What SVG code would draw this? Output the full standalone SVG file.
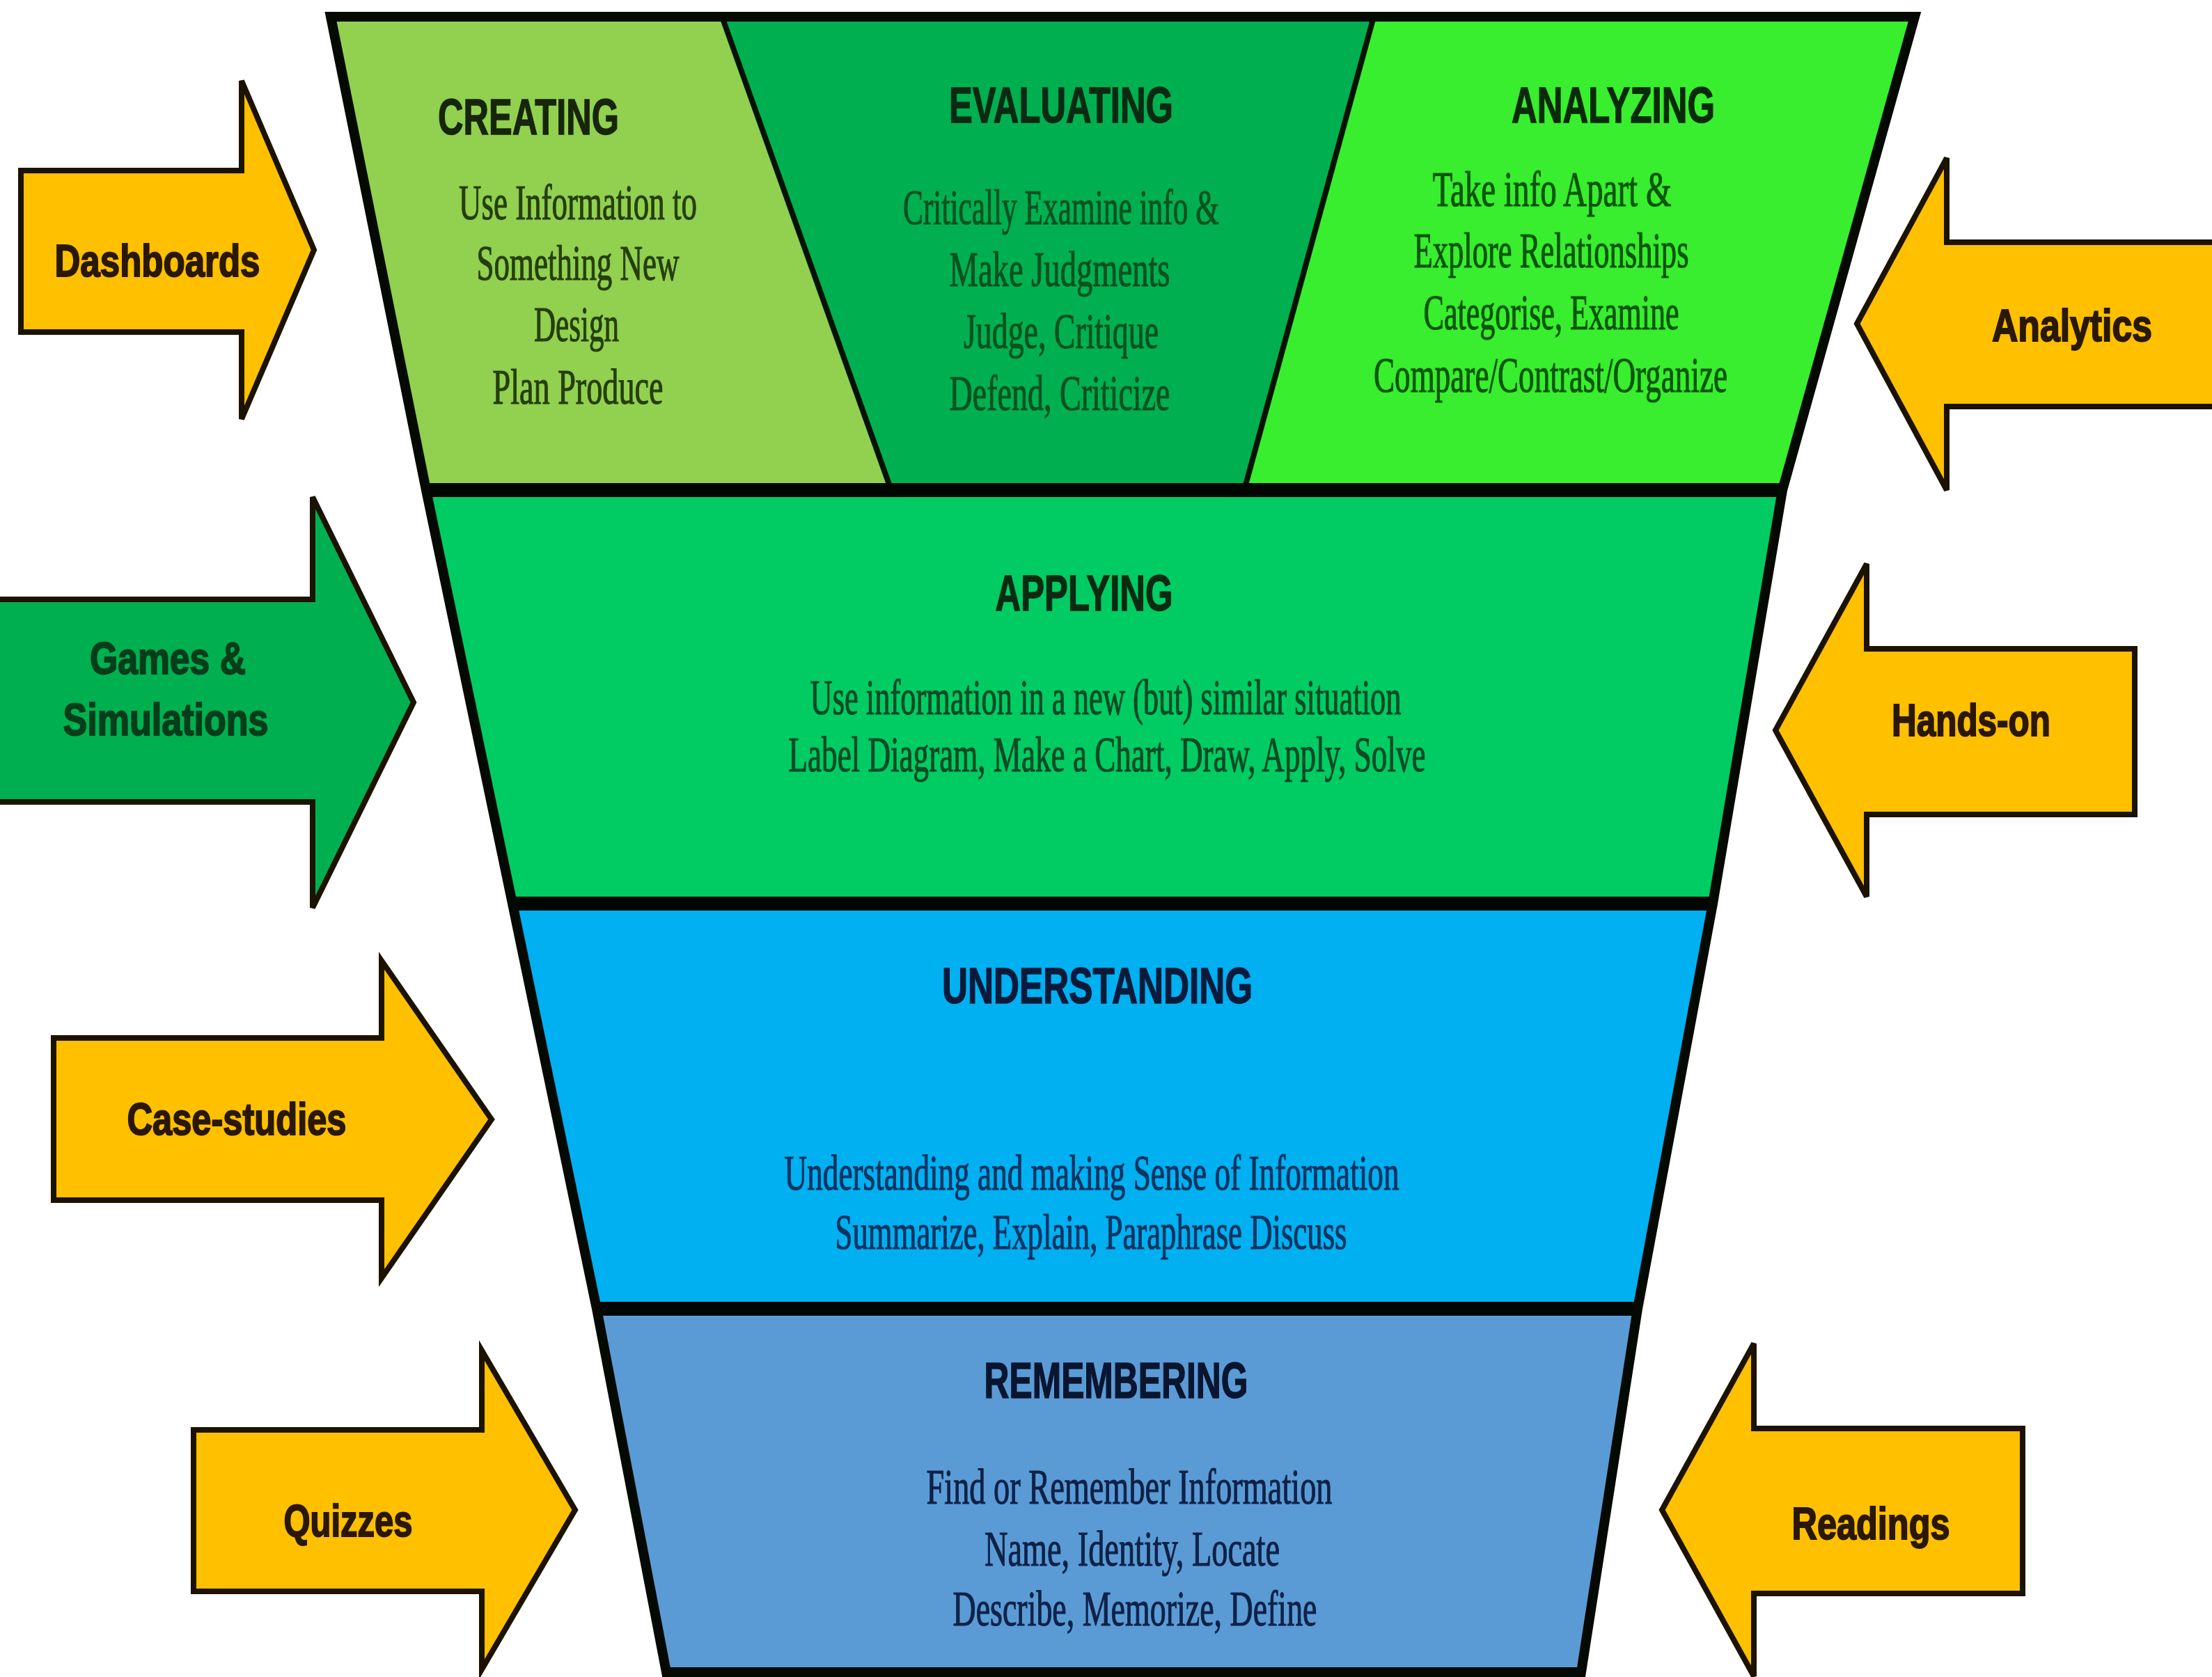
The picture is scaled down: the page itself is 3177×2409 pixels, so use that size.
<svg xmlns="http://www.w3.org/2000/svg" width="3177" height="2409" viewBox="0 0 3177 2409">
  <style>
    .hd { font-family: "Liberation Sans", Arial, sans-serif; font-weight: 700; font-size: 72px; text-anchor: middle; stroke-width: 1.5; }
    .bd { font-family: "Liberation Serif", "Times New Roman", serif; font-size: 72px; text-anchor: middle; stroke-width: 1.2; }
    .lb { font-family: "Liberation Sans", Arial, sans-serif; font-weight: 700; font-size: 64px; text-anchor: middle; stroke-width: 2; }
    .edge { fill: none; stroke: #040902; stroke-width: 14; stroke-linejoin: miter; }
    .rule { fill: none; stroke: #020601; stroke-width: 20; }
    .split { fill: none; stroke: #031203; stroke-width: 8; }
    .arrow { stroke: #1c1200; stroke-width: 8; stroke-linejoin: miter; }
    .yel { fill: #ffc000; }
    .grn { fill: #00b050; }
    .t-yel { fill: #2a1800; stroke: #2a1800; }
    .t-grn { fill: #063d1a; stroke: #063d1a; }
  </style>

  <rect width="3177" height="2409" fill="#ffffff"/>

  <!-- funnel levels -->
  <g id="funnel">
    <g id="creating">
      <polygon points="475,24 1037,24 1280,704 612,704" fill="#92d050"/>
      <text class="hd" x="759" y="193" fill="#17260a" stroke="#17260a" textLength="260" lengthAdjust="spacingAndGlyphs">CREATING</text>
      <g class="bd" fill="#253f0b" stroke="#253f0b">
        <text x="830" y="315" textLength="342" lengthAdjust="spacingAndGlyphs">Use Information to</text>
        <text x="830" y="402" textLength="291" lengthAdjust="spacingAndGlyphs">Something New</text>
        <text x="828" y="490" textLength="122" lengthAdjust="spacingAndGlyphs">Design</text>
        <text x="830" y="580" textLength="245" lengthAdjust="spacingAndGlyphs">Plan Produce</text>
      </g>
    </g>

    <g id="evaluating">
      <polygon points="1037,24 1973,24 1787,704 1280,704" fill="#00b050"/>
      <text class="hd" x="1524" y="176" fill="#0a2a12" stroke="#0a2a12" textLength="322" lengthAdjust="spacingAndGlyphs">EVALUATING</text>
      <g class="bd" fill="#0a5220" stroke="#0a5220">
        <text x="1524" y="322" textLength="454" lengthAdjust="spacingAndGlyphs">Critically Examine info &amp;</text>
        <text x="1522" y="411" textLength="317" lengthAdjust="spacingAndGlyphs">Make Judgments</text>
        <text x="1524" y="500" textLength="280" lengthAdjust="spacingAndGlyphs">Judge, Critique</text>
        <text x="1522" y="589" textLength="317" lengthAdjust="spacingAndGlyphs">Defend, Criticize</text>
      </g>
    </g>

    <g id="analyzing">
      <polygon points="1973,24 2750,24 2560,704 1787,704" fill="#38ee2e"/>
      <text class="hd" x="2317" y="176" fill="#0a2a0a" stroke="#0a2a0a" textLength="292" lengthAdjust="spacingAndGlyphs">ANALYZING</text>
      <g class="bd" fill="#0a560a" stroke="#0a560a">
        <text x="2229" y="296" textLength="343" lengthAdjust="spacingAndGlyphs">Take info Apart &amp;</text>
        <text x="2228" y="384" textLength="395" lengthAdjust="spacingAndGlyphs">Explore Relationships</text>
        <text x="2228" y="473" textLength="367" lengthAdjust="spacingAndGlyphs">Categorise, Examine</text>
        <text x="2227" y="563" textLength="508" lengthAdjust="spacingAndGlyphs">Compare/Contrast/Organize</text>
      </g>
    </g>

    <g id="applying">
      <polygon points="612,704 2560,704 2460,1298 736,1298" fill="#00cc63"/>
      <text class="hd" x="1557" y="877" fill="#0a2a12" stroke="#0a2a12" textLength="255" lengthAdjust="spacingAndGlyphs">APPLYING</text>
      <g class="bd" fill="#0a4a24" stroke="#0a4a24">
        <text x="1588" y="1026" textLength="849" lengthAdjust="spacingAndGlyphs">Use information in a new (but) similar situation</text>
        <text x="1590" y="1108" textLength="915" lengthAdjust="spacingAndGlyphs">Label Diagram, Make a Chart, Draw, Apply, Solve</text>
      </g>
    </g>

    <g id="understanding">
      <polygon points="736,1298 2460,1298 2352,1880 857,1880" fill="#00b0f0"/>
      <text class="hd" x="1576" y="1441" fill="#0a1a3a" stroke="#0a1a3a" textLength="446" lengthAdjust="spacingAndGlyphs">UNDERSTANDING</text>
      <g class="bd" fill="#0a3462" stroke="#0a3462">
        <text x="1568" y="1709" textLength="883" lengthAdjust="spacingAndGlyphs">Understanding and making Sense of Information</text>
        <text x="1567" y="1794" textLength="735" lengthAdjust="spacingAndGlyphs">Summarize, Explain, Paraphrase Discuss</text>
      </g>
    </g>

    <g id="remembering">
      <polygon points="857,1880 2352,1880 2271,2402 957,2402" fill="#5b9bd5"/>
      <text class="hd" x="1603" y="2008" fill="#0a1530" stroke="#0a1530" textLength="379" lengthAdjust="spacingAndGlyphs">REMEMBERING</text>
      <g class="bd" fill="#0e2248" stroke="#0e2248">
        <text x="1622" y="2160" textLength="583" lengthAdjust="spacingAndGlyphs">Find or Remember Information</text>
        <text x="1626" y="2249" textLength="424" lengthAdjust="spacingAndGlyphs">Name, Identity, Locate</text>
        <text x="1630" y="2335" textLength="523" lengthAdjust="spacingAndGlyphs">Describe, Memorize, Define</text>
      </g>
    </g>

    <!-- outline and level rules -->
    <line class="split" x1="1037" y1="24" x2="1280" y2="704"/>
    <line class="split" x1="1973" y1="24" x2="1787" y2="704"/>
    <line class="rule" x1="612" y1="704" x2="2560" y2="704"/>
    <line class="rule" x1="736" y1="1298" x2="2460" y2="1298"/>
    <line class="rule" x1="857" y1="1880" x2="2352" y2="1880"/>
    <path class="edge" d="M475,24 H2750 L2560,704 L2460,1298 L2352,1880 L2271,2402 H957 L857,1880 L736,1298 L612,704 Z"/>
  </g>

  <!-- input arrows -->
  <g id="arrows">
    <g id="dashboards">
      <path class="arrow yel" d="M30,245 H347 V116 L451,359 L347,602 V477 H30 Z"/>
      <text class="lb t-yel" x="226" y="397" textLength="295" lengthAdjust="spacingAndGlyphs">Dashboards</text>
    </g>
    <g id="games">
      <path class="arrow grn" d="M-20,861 H449 V714 L594,1009 L449,1304 V1152 H-20 Z"/>
      <text class="lb t-grn" x="241" y="968" textLength="224" lengthAdjust="spacingAndGlyphs">Games &amp;</text>
      <text class="lb t-grn" x="238" y="1056" textLength="295" lengthAdjust="spacingAndGlyphs">Simulations</text>
    </g>
    <g id="case-studies">
      <path class="arrow yel" d="M77,1491 H548 V1380 L706,1608 L548,1836 V1724 H77 Z"/>
      <text class="lb t-yel" x="340" y="1630" textLength="315" lengthAdjust="spacingAndGlyphs">Case-studies</text>
    </g>
    <g id="quizzes">
      <path class="arrow yel" d="M278,2054 H692 V1940 L826,2169 L692,2398 V2286 H278 Z"/>
      <text class="lb t-yel" x="500" y="2207" textLength="185" lengthAdjust="spacingAndGlyphs">Quizzes</text>
    </g>
    <g id="analytics">
      <path class="arrow yel" d="M3190,348 H2796 V227 L2667,465 L2796,704 V584 H3190 Z"/>
      <text class="lb t-yel" x="2976" y="490" textLength="230" lengthAdjust="spacingAndGlyphs">Analytics</text>
    </g>
    <g id="hands-on">
      <path class="arrow yel" d="M3066,932 H2681 V810 L2550,1049 L2681,1288 V1170 H3066 Z"/>
      <text class="lb t-yel" x="2831" y="1057" textLength="228" lengthAdjust="spacingAndGlyphs">Hands-on</text>
    </g>
    <g id="readings">
      <path class="arrow yel" d="M2905,2052 H2519 V1930 L2387,2169 L2519,2408 V2289 H2905 Z"/>
      <text class="lb t-yel" x="2687" y="2211" textLength="227" lengthAdjust="spacingAndGlyphs">Readings</text>
    </g>
  </g>

  <!-- no separate connector lines: the arrows above carry the flow -->
  <g id="connectors"/>
</svg>
